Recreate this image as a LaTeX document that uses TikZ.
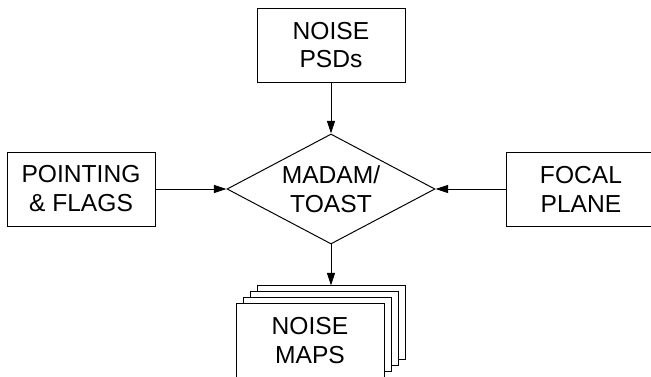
\documentclass[tikz,border=0pt]{standalone}
\usepackage{fontspec}
\setmainfont{Liberation Sans}
\usetikzlibrary{arrows.meta,positioning,shapes.geometric}

\tikzset{
    block/.style={draw, fill=white, minimum width=3.7cm, minimum height=1.85cm, align=center, inner sep=0pt},
    decision/.style={draw, diamond, aspect=1.89, minimum width=5.2cm, minimum height=2.75cm, align=center, inner sep=0pt},
    flow/.style={-{Triangle[length=9pt,width=5.7pt]}}
}

\begin{document}
\begin{tikzpicture}[line width=0.7pt, font=\fontsize{17.5}{20.6}\selectfont]
        \useasboundingbox (-8.275,4.725) rectangle (8.0,-4.675);

        \node[decision] (madam) {MADAM/\\TOAST};
        \node[block, above=1.275cm of madam] (psds) {NOISE\\PSDs};
        \node[block, left=1.775cm of madam] (pointing) {POINTING\\\& FLAGS};
        \node[block, right=1.775cm of madam] (focal) {FOCAL\\PLANE};

        % stack of maps, back to front
        \node[block, below=1.025cm of madam] (maps_back) {};
        \node[block, shift={(-0.175,-0.145)}] (maps_mid) at (maps_back) {};
        \node[block, shift={(-0.175,-0.145)}] (maps_low) at (maps_mid) {};
        \node[block, shift={(-0.175,-0.145)}] (maps) at (maps_low) {NOISE\\MAPS};

        \draw[flow] (psds) -- (madam);
        \draw[flow] (pointing) -- (madam);
        \draw[flow] (focal) -- (madam);
        \draw[flow] (madam) -- (maps_back);
    \end{tikzpicture}
\end{document}
